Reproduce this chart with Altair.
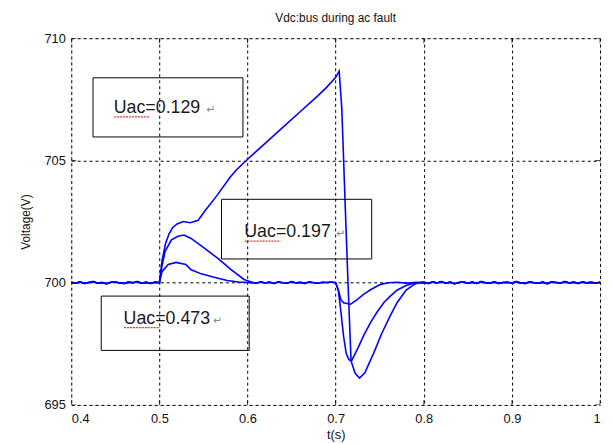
import altair as alt
import pandas as pd

# ---------------- data ----------------
# shared noisy baseline before the fault (t, V)
pre_t = [0.400, 0.405, 0.410, 0.415, 0.420, 0.425, 0.430, 0.435, 0.440, 0.445,
         0.450, 0.455, 0.460, 0.465, 0.470, 0.475, 0.480, 0.485, 0.490, 0.495]
pre_v = [700.02, 699.98, 700.03, 699.97, 700.01, 700.04, 699.98, 700.00, 699.96, 700.02,
         700.03, 699.99, 699.97, 700.02, 700.00, 700.04, 699.98, 700.01, 699.97, 700.02]

# shared noisy baseline after recovery
post_t = [0.800, 0.805, 0.810, 0.815, 0.820, 0.825, 0.830, 0.835, 0.840, 0.845,
          0.850, 0.855, 0.860, 0.865, 0.870, 0.875, 0.880, 0.885, 0.890, 0.895,
          0.900, 0.905, 0.910, 0.915, 0.920, 0.925, 0.930, 0.935, 0.940, 0.945,
          0.950, 0.955, 0.960, 0.965, 0.970, 0.975, 0.980, 0.985, 0.990, 0.995, 1.000]
post_v = [700.01, 699.97, 700.03, 699.99, 700.04, 699.98, 700.02, 699.96, 700.01, 700.03,
          699.98, 700.02, 699.97, 700.04, 700.00, 699.98, 700.03, 699.97, 700.01, 700.02,
          699.98, 700.04, 699.99, 699.97, 700.03, 700.00, 699.98, 700.02, 699.96, 700.03,
          700.01, 699.98, 700.04, 699.99, 700.02, 699.97, 700.03, 699.99, 700.01, 699.98, 700.02]

# noisy baseline between the transients (Uac=0.197 and Uac=0.473 curves)
mid_t = [0.610, 0.615, 0.620, 0.625, 0.630, 0.635, 0.640, 0.645, 0.650, 0.655,
         0.660, 0.665, 0.670, 0.675, 0.680, 0.685, 0.690, 0.695]
mid_v = [699.98, 700.03, 699.99, 700.02, 699.97, 700.03, 700.00, 699.98, 700.04, 699.99,
         700.01, 699.97, 700.03, 700.00, 699.98, 700.02, 700.01, 700.03]

# Uac = 0.129 (largest rise)
c1_t = [0.500, 0.503, 0.507, 0.511, 0.515, 0.520, 0.527, 0.535, 0.544, 0.552,
        0.565, 0.580, 0.587, 0.600, 0.620, 0.640, 0.660, 0.680, 0.690, 0.700,
        0.704, 0.707, 0.711, 0.714, 0.7175, 0.722, 0.727, 0.733, 0.7435, 0.752,
        0.762, 0.770, 0.780, 0.790, 0.795]
c1_v = [700.00, 700.90, 701.60, 702.00, 702.25, 702.40, 702.50, 702.45, 702.55, 702.95,
        703.55, 704.30, 704.60, 705.05, 705.70, 706.35, 707.00, 707.65, 708.00, 708.40,
        708.65, 707.10, 703.00, 700.00, 696.80, 696.30, 696.10, 696.30, 697.15, 697.90,
        698.65, 699.20, 699.70, 699.95, 700.00]

# Uac = 0.197
c2_t = [0.500, 0.503, 0.5065, 0.5137, 0.521, 0.528, 0.536, 0.551, 0.566, 0.581,
        0.596, 0.605, 0.700, 0.703, 0.706, 0.709, 0.712, 0.715, 0.718, 0.725,
        0.732, 0.740, 0.747, 0.755, 0.762, 0.770, 0.780, 0.790, 0.795]
c2_v = [700.00, 700.70, 701.28, 701.75, 701.90, 701.95, 701.81, 701.41, 701.00, 700.54,
        700.13, 700.02, 700.00, 699.70, 698.80, 697.80, 697.10, 696.85, 696.80, 697.30,
        697.85, 698.40, 698.80, 699.20, 699.45, 699.70, 699.88, 700.00, 700.00]

# Uac = 0.473 (smallest rise)
c3_t = [0.500, 0.503, 0.510, 0.519, 0.530, 0.536, 0.5475, 0.562, 0.577, 0.590,
        0.600, 0.605, 0.700, 0.703, 0.706, 0.709, 0.717, 0.724, 0.732, 0.740,
        0.751, 0.760, 0.770, 0.780, 0.790, 0.795]
c3_v = [700.00, 700.45, 700.74, 700.83, 700.74, 700.53, 700.36, 700.22, 700.09, 700.03,
        700.01, 700.00, 700.00, 699.70, 699.30, 699.18, 699.12, 699.30, 699.53, 699.72,
        699.93, 700.00, 700.02, 699.98, 700.01, 700.00]

series_names = ["Uac=0.129", "Uac=0.197", "Uac=0.473"]

# annotation boxes (data units) and their labels
box_labels = ["Uac=0.129", "Uac=0.197", "Uac=0.473"]
box_t1 = [0.4247, 0.5705, 0.4340]
box_t2 = [0.5948, 0.7409, 0.6019]
box_v1 = [708.38, 703.41, 699.45]
box_v2 = [705.96, 700.97, 697.23]
text_t = [0.4482, 0.5963, 0.4594]
text_v = [707.14, 702.06, 698.52]
arrow_t = [0.5535, 0.7010, 0.5610]
# red spell-check underline under "Uac" (data units)
under_t1 = [0.4487, 0.5968, 0.4599]
under_t2 = [0.4895, 0.6376, 0.5007]
under_v = [706.78, 701.70, 698.16]

x_ticks = [0.4, 0.5, 0.6, 0.7, 0.8, 0.9, 1.0]
y_ticks = [695, 700, 705, 710]

# ---------------- build tables ----------------
rows = []
for name, tt, vv in [
    (series_names[0], pre_t + c1_t + post_t, pre_v + c1_v + post_v),
    (series_names[1], pre_t + c2_t[:12] + mid_t + c2_t[12:] + post_t,
     pre_v + c2_v[:12] + mid_v + c2_v[12:] + post_v),
    (series_names[2], pre_t + c3_t[:12] + mid_t + c3_t[12:] + post_t,
     pre_v + c3_v[:12] + mid_v + c3_v[12:] + post_v),
]:
    for i, (a, b) in enumerate(zip(tt, vv)):
        rows.append({"t": a, "v": b, "series": name, "order": i})
lines_df = pd.DataFrame(rows)

boxes_df = pd.DataFrame({
    "label": box_labels, "t1": box_t1, "t2": box_t2, "v1": box_v1, "v2": box_v2,
    "tt": text_t, "tv": text_v, "at": arrow_t,
    "u1": under_t1, "u2": under_t2, "uv": under_v,
})
xt_df = pd.DataFrame({"t": x_ticks})
yt_df = pd.DataFrame({"v": y_ticks})

W, H = 535, 371
FONT = "Liberation Sans"

x_scale = alt.Scale(domain=[0.4, 1.0], nice=False)
y_scale = alt.Scale(domain=[695, 710], nice=False, zero=False)

x_axis = alt.Axis(values=x_ticks, format="~g", title="t(s)", grid=True,
                  gridDash=[3, 3], gridColor="black", gridOpacity=1, gridWidth=1,
                  domain=False, ticks=False, labelPadding=8, labelFontSize=13,
                  labelColor="#111111", titleFontSize=13, titleFontWeight="normal",
                  titleColor="#111111", titlePadding=3, labelFont=FONT, titleFont=FONT)
y_axis = alt.Axis(values=y_ticks, format="d", title="Voltage(V)", grid=True,
                  gridDash=[3, 3], gridColor="black", gridOpacity=1, gridWidth=1,
                  domain=False, ticks=False, labelPadding=6, labelFontSize=13,
                  labelColor="#111111", titleFontSize=12, titleFontWeight="normal",
                  titleColor="#111111", titlePadding=12, labelFont=FONT, titleFont=FONT)

base_lines = alt.Chart(lines_df).mark_line(color="#0000FF", strokeWidth=1.6).encode(
    x=alt.X("t:Q", scale=x_scale, axis=x_axis),
    y=alt.Y("v:Q", scale=y_scale, axis=y_axis),
    detail="series:N",
    order="order:Q",
)

boxes = alt.Chart(boxes_df).mark_rect(fill=None, fillOpacity=0, stroke="black",
                                      strokeWidth=1).encode(
    x=alt.X("t1:Q", scale=x_scale), x2="t2:Q",
    y=alt.Y("v1:Q", scale=y_scale), y2="v2:Q",
)

labels = alt.Chart(boxes_df).mark_text(align="left", baseline="middle", fontSize=18,
                                       font=FONT, color="#1a1a1a").encode(
    x=alt.X("tt:Q", scale=x_scale), y=alt.Y("tv:Q", scale=y_scale), text="label:N",
)

underlines = alt.Chart(boxes_df).mark_rule(color="#e53535", strokeWidth=1.2,
                                           strokeDash=[2, 1]).encode(
    x=alt.X("u1:Q", scale=x_scale), x2="u2:Q", y=alt.Y("uv:Q", scale=y_scale),
)

arrows = alt.Chart(boxes_df).mark_text(align="left", baseline="middle", fontSize=11,
                                       font="DejaVu Sans", color="#8a8a8a", dy=2).encode(
    x=alt.X("at:Q", scale=x_scale), y=alt.Y("tv:Q", scale=y_scale),
    text=alt.value("↵"),
)

tick_style = dict(color="black", thickness=1, size=10, clip=True)
xt_bottom = alt.Chart(xt_df).mark_tick(orient="vertical", **tick_style).encode(
    x=alt.X("t:Q", scale=x_scale), y=alt.value(H))
xt_top = alt.Chart(xt_df).mark_tick(orient="vertical", **tick_style).encode(
    x=alt.X("t:Q", scale=x_scale), y=alt.value(0))
yt_left = alt.Chart(yt_df).mark_tick(orient="horizontal", **tick_style).encode(
    y=alt.Y("v:Q", scale=y_scale), x=alt.value(0))
yt_right = alt.Chart(yt_df).mark_tick(orient="horizontal", **tick_style).encode(
    y=alt.Y("v:Q", scale=y_scale), x=alt.value(W))

chart = alt.layer(
    base_lines, xt_bottom, xt_top, yt_left, yt_right, boxes, underlines, labels, arrows
).properties(
    width=W, height=H,
    title=alt.Title("Vdc:bus during ac fault", fontSize=12, fontWeight="normal",
                    font=FONT, color="#111111", offset=7),
    autosize=alt.AutoSizeParams(type="none"),
    padding={"left": 64, "top": 28, "right": 5, "bottom": 36},
).configure_view(stroke="black", strokeWidth=1).configure(background="white")

chart.save("out.html", embed_options={"renderer": "svg", "actions": False})
